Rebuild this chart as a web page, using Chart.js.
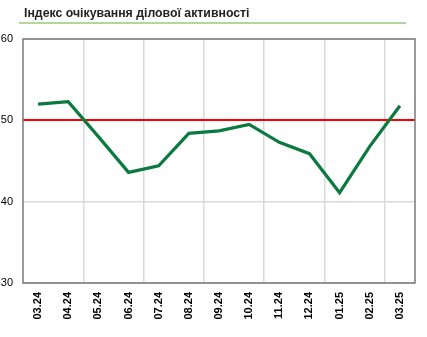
<!DOCTYPE html>
<html>
<head>
<meta charset="utf-8">
<script src="https://cdn.jsdelivr.net/npm/chart.js@4"></script>
<style>
    body { margin: 0; background: #fff; }
    #wrap { position: relative; width: 427px; height: 337px; }
    #title {
        position: absolute; left: 24px; top: 6px;
        font: bold 12.3px "Liberation Sans", Arial, sans-serif; color: #222;
    }
    #rule {
        position: absolute; left: 19px; top: 22px; width: 387px; height: 2px;
        background: #b3d79a;
    }
    canvas { position: absolute; left: 0; top: 0; }
</style>
</head>
<body>
<div id="wrap">
    <canvas id="chart" width="427" height="337"></canvas>
    <div id="title">Індекс очікування ділової активності</div>
    <div id="rule"></div>
</div>
<script>
// Chart data
var months = ['03.24', '04.24', '05.24', '06.24', '07.24', '08.24', '09.24',
              '10.24', '11.24', '12.24', '01.25', '02.25', '03.25'];
var indexValues = [52.0, 52.3, 48.0, 43.6, 44.4, 48.4, 48.7, 49.5, 47.3, 45.9, 41.1, 46.8, 51.8];
var yTicks = [30, 40, 50, 60];
var threshold = 50;

// Frame around plot area
var framePlugin = {
    id: 'frame',
    afterDatasetsDraw: function(chart) {
        var a = chart.chartArea;
        var ctx = chart.ctx;
        ctx.save();
        ctx.strokeStyle = '#7a7a7a';
        ctx.lineWidth = 1.5;
        ctx.strokeRect(a.left, a.top, a.right - a.left, a.bottom - a.top);
        ctx.restore();
    }
};

new Chart(document.getElementById('chart'), {
    type: 'line',
    data: {
        labels: months,
        datasets: [{
            data: indexValues,
            borderColor: '#0b7a3e',
            borderWidth: 3.2,
            pointRadius: 0,
            tension: 0,
            fill: false
        }]
    },
    options: {
        responsive: false,
        animation: false,
        layout: { padding: { top: 39, right: 12, left: 0, bottom: 0 } },
        plugins: {
            legend: { display: false },
            tooltip: { enabled: false }
        },
        scales: {
            x: {
                offset: true,
                afterFit: function(scale) { scale.height = 54; },
                grid: {
                    offset: true,
                    drawTicks: false,
                    color: function(c) {
                        return (c.index > 0 && c.index < months.length && c.index % 2 === 0) ? '#d9d9d9' : 'rgba(0,0,0,0)';
                    },
                    lineWidth: 1.5
                },
                border: { display: false },
                ticks: {
                    autoSkip: false,
                    minRotation: 90,
                    maxRotation: 90,
                    padding: 9,
                    color: '#000',
                    font: { family: 'Liberation Sans, Arial', size: 11, weight: 'bold' }
                }
            },
            y: {
                min: 30,
                max: 60,
                afterFit: function(scale) { scale.width = 23; },
                afterBuildTicks: function(scale) {
                    scale.ticks = yTicks.map(function(v) { return { value: v }; });
                },
                grid: {
                    drawTicks: false,
                    color: function(c) {
                        return c.tick && c.tick.value === threshold ? '#ff0000' : '#d9d9d9';
                    },
                    lineWidth: function(c) {
                        return c.tick && c.tick.value === threshold ? 2 : 1.5;
                    }
                },
                border: { display: false },
                ticks: {
                    padding: 10,
                    color: '#000',
                    font: { family: 'Liberation Sans, Arial', size: 11 }
                }
            }
        }
    },
    plugins: [framePlugin]
});
</script>
</body>
</html>
